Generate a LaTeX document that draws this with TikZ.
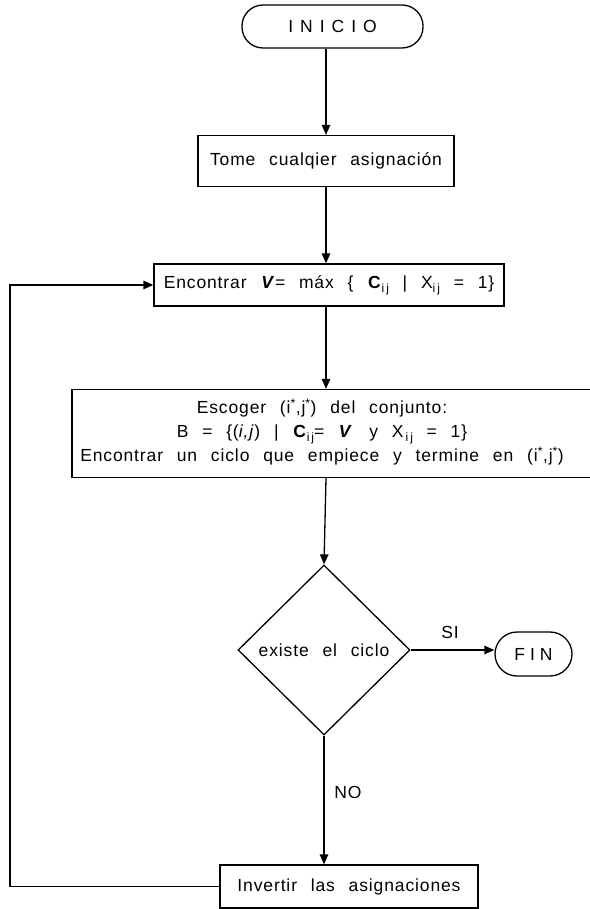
\documentclass[tikz,border=0pt]{standalone}
\usepackage{fontspec}
\setmainfont{Liberation Sans}[LetterSpace=5, WordSpace=2.4]
\usetikzlibrary{shapes.geometric,arrows.meta}
% lowered subscript in text font
\newcommand\sbs[1]{\raisebox{-0.45ex}{\fontsize{12}{12}\selectfont #1}}
\newcommand\st{\textsuperscript{*}}
\begin{document}
\begin{tikzpicture}[x=1pt,y=-1pt,
  every node/.style={font=\fontsize{17.5}{24}\selectfont},
  stepbox/.style={draw,line width=1.3pt,rectangle,inner sep=0pt},
  term/.style={draw,line width=1.3pt,rectangle,rounded corners=21pt,inner sep=0pt},
  decbox/.style={draw,line width=1.3pt,diamond,inner sep=0pt},
  arr/.style={line width=1.3pt,-{Triangle[length=10pt,width=8.5pt]}}]
\useasboundingbox (0,0) rectangle (589,909);

\node[term,minimum width=181pt,minimum height=43pt] (inicio) at (332.5,26.5)
  {I\kern7pt N\kern7pt I\kern7pt C\kern7pt I\kern7pt O};
\node[stepbox,minimum width=256pt,minimum height=51pt] (tome) at (326,161)
  {Tome cualqier asignación};
\node[stepbox,minimum width=350pt,minimum height=42pt] (enc) at (329,285)
  {Encontrar \textbf{\textit{V}}= máx \{ \textbf{C}\sbs{i\,j} | X\sbs{i\,j} = 1\}};
% the wide box runs past the right border of the sheet
\node[stepbox,minimum width=530pt,minimum height=88pt] (esc) at (337,433.5) {};
\node[align=center,inner sep=0pt] (esct) at (322,432)
  {Escoger (i\st,j\st) del conjunto:\\
   B = \{(\textit{i,j}) | \textbf{C}\sbs{i\,j}= \textbf{\textit{V}}\, y X\sbs{\,i\,j} = 1\}\\
   Encontrar un ciclo que empiece y termine en (i\st,j\st)};
\node[decbox,minimum width=172pt,minimum height=170pt] (dec) at (324,650) {};
\node (dectext) at (dec.center) {existe el ciclo};
\node[term,rounded corners=22pt,minimum width=77pt,minimum height=44pt] (fin) at (533.5,654)
  {F\kern5pt I\kern5pt N};
\node[stepbox,minimum width=258pt,minimum height=43pt] (inv) at (349,886.5)
  {Invertir las asignaciones};

\coordinate (lx) at (10,0);

\draw[arr] (inicio.south -| tome.north) -- (tome.north);
\draw[arr] (tome.south) -- (tome.south |- enc.north);
\draw[arr] (tome.south |- enc.south) -- (tome.south |- esc.north);
\draw[arr] (tome.south |- esc.south) -- (dec.north);
\draw[arr] (dec.east) -- (fin.west |- dec.east);
\draw[arr] (dec.south) -- (dec.south |- inv.north);
\draw[arr] (inv.west) -- (inv.west -| lx) |- (enc.west);

\node (si) at (450,632) {SI};
\node (no) at (348,792) {NO};
\end{tikzpicture}
\end{document}
